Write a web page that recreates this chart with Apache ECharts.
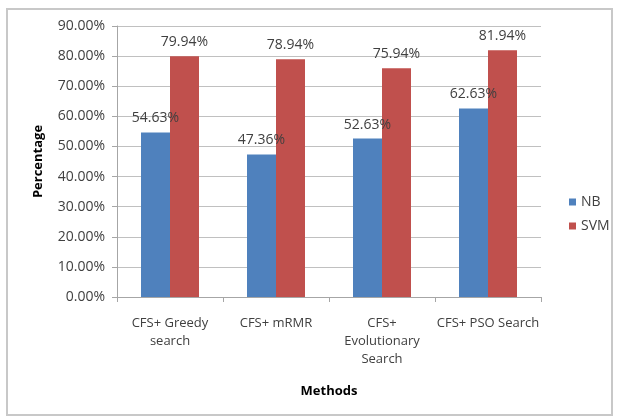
<!DOCTYPE html>
<html><head><meta charset="utf-8">
<script src="https://cdn.jsdelivr.net/npm/echarts@6/dist/echarts.min.js"></script>
<style>html,body{margin:0;padding:0;background:#fff}#c{width:619px;height:416px}</style>
</head><body><div id="c"></div>
<script>
var categories = ["CFS+ Greedy\nsearch", "CFS+ mRMR", "CFS+\nEvolutionary\nSearch", "CFS+ PSO Search"];
var nbValues = [54.63, 47.36, 52.63, 62.63];
var svmValues = [79.94, 78.94, 75.94, 81.94];
var yTicks = [0, 10, 20, 30, 40, 50, 60, 70, 80, 90];

var font = "Open Sans";
var chart = echarts.init(document.getElementById('c'));
var lbl = {show: true, position: 'top', distance: 7, color: '#404040', fontFamily: font, fontSize: 14,
  formatter: function(p){ return p.value.toFixed(2) + '%'; }};
chart.setOption({
  animation: false,
  textStyle: {fontFamily: font},
  graphic: [{type: 'rect', shape: {x: 7, y: 9, width: 605, height: 406},
    style: {fill: 'none', stroke: '#c8c8c8', lineWidth: 2}, silent: true}],
  grid: {left: 117, right: 78, top: 26, bottom: 119},
  legend: {orient: 'vertical', left: 564, top: 190, itemWidth: 7, itemHeight: 7, itemGap: 10,
    icon: 'rect', textStyle: {color: '#404040', fontSize: 14, fontFamily: font},
    data: ['NB', 'SVM']},
  xAxis: {type: 'category', data: categories, name: 'Methods', nameLocation: 'middle', nameGap: 88,
    nameTextStyle: {fontWeight: 'bold', fontSize: 13, color: '#000', fontFamily: font},
    axisLine: {lineStyle: {color: '#a6a6a6'}},
    axisTick: {show: true, length: 5, lineStyle: {color: '#a6a6a6'}},
    axisLabel: {color: '#404040', fontSize: 13, lineHeight: 18, margin: 17, interval: 0, fontFamily: font}},
  yAxis: {type: 'value', min: 0, max: 90, interval: 10, name: 'Percentage', nameLocation: 'middle', nameGap: 72,
    nameTextStyle: {fontWeight: 'bold', fontSize: 13, color: '#000', fontFamily: font},
    axisLine: {show: true, lineStyle: {color: '#a6a6a6'}},
    axisTick: {show: true, length: 5, inside: false, lineStyle: {color: '#a6a6a6'}},
    splitLine: {lineStyle: {color: '#c0c0c0'}},
    axisLabel: {color: '#404040', fontSize: 14, margin: 12, fontFamily: font,
      formatter: function(v){ return yTicks.indexOf(v) >= 0 ? v.toFixed(2) + '%' : ''; }}},
  series: [
    {name: 'NB', type: 'bar', data: nbValues, barWidth: 29, barGap: '0%', itemStyle: {color: '#4f81bd'}, label: lbl, z: 2},
    {name: 'SVM', type: 'bar', data: svmValues, barWidth: 29, barGap: '0%', itemStyle: {color: '#c0504d'}, label: lbl, z: 1}
  ]
});
</script></body></html>
